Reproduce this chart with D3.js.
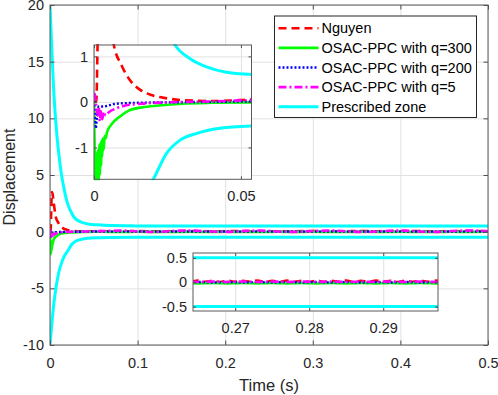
<!DOCTYPE html>
<html>
<head>
<meta charset="utf-8">
<script src="https://cdn.jsdelivr.net/npm/d3@7"></script>
<style>
    body { margin: 0; background: #fff; }
    svg { font-family: Arial, "Liberation Sans", sans-serif; }
</style>
</head>
<body>
<div id="chart"></div>
<script>
// ---------------- Data ----------------

// Series names (legend order)
const seriesNames = ["Nguyen", "OSAC-PPC with q=300", "OSAC-PPC with q=200", "OSAC-PPC with q=5", "Prescribed zone"];

// Transient part, [time, displacement]
const earlyNguyen = [[0, 0], [0.0008, 0.02], [0.0012, 1.2], [0.0017, 2.8], [0.0023, 3.5], [0.003, 3.3],
    [0.0045, 2.4], [0.0066, 1.3], [0.0094, 0.8], [0.0122, 0.48], [0.0156, 0.27], [0.0196, 0.15],
    [0.0247, 0.08], [0.03, 0.04], [0.04, 0.02], [0.047, 0.03], [0.053, 0.05]];

const earlyQ300 = [[0, 0], [0.0002, -0.9], [0.0004, -1.9], [0.0006, -1.1], [0.0008, -2.0], [0.001, -1.2],
    [0.0012, -1.9], [0.0014, -1.05], [0.0016, -1.75], [0.0018, -0.95], [0.002, -1.6], [0.0022, -0.9],
    [0.0024, -1.4], [0.0026, -0.85], [0.0028, -1.2], [0.003, -0.8], [0.0033, -1.05], [0.0036, -0.75],
    [0.004, -0.8], [0.0044, -0.67], [0.0061, -0.48], [0.0084, -0.34], [0.0118, -0.19], [0.0163, -0.12],
    [0.022, -0.08], [0.03, -0.04], [0.04, -0.02], [0.053, -0.01]];

const earlyQ200 = [[0, 0.02], [0.0003, -0.25], [0.0006, -0.58], [0.0009, -0.4], [0.0012, -0.18], [0.0016, -0.1],
    [0.003, -0.1], [0.005, -0.08], [0.0066, -0.05], [0.01, -0.03], [0.015, -0.02], [0.025, -0.01],
    [0.04, 0], [0.053, 0.01]];

const earlyQ5 = [[0, 0.2], [0.0004, 0.12], [0.0008, -0.1], [0.0012, -0.3], [0.0016, -0.12], [0.002, -0.42],
    [0.0024, -0.18], [0.0028, -0.38], [0.0033, -0.22], [0.004, -0.3], [0.005, -0.23], [0.0073, -0.15],
    [0.0107, -0.08], [0.016, -0.04], [0.025, -0.01], [0.04, 0.01], [0.053, 0.04]];

// Steady part on a shared time grid
const steadyTime = [0.06, 0.08, 0.10, 0.12, 0.14, 0.16, 0.18, 0.20, 0.22, 0.24, 0.26, 0.28,
    0.30, 0.32, 0.34, 0.36, 0.38, 0.40, 0.42, 0.44, 0.46, 0.48, 0.50];
const steadyNguyen = [0.04, 0.03, 0.05, 0.03, 0.04, 0.05, 0.03, 0.04, 0.05, 0.03, 0.04, 0.04,
    0.05, 0.03, 0.04, 0.05, 0.03, 0.04, 0.05, 0.03, 0.04, 0.05, 0.04];
const steadyQ300 = [-0.01, -0.02, -0.01, -0.02, -0.02, -0.01, -0.02, -0.01, -0.02, -0.02, -0.01, -0.02,
    -0.01, -0.02, -0.02, -0.01, -0.02, -0.01, -0.02, -0.02, -0.01, -0.02, -0.01];
const steadyQ200 = [0.01, 0, 0.01, 0, 0.01, 0.01, 0, 0.01, 0, 0.01, 0, 0.01,
    0, 0.01, 0, 0.01, 0.01, 0, 0.01, 0, 0.01, 0, 0.01];
const steadyQ5 = [0.05, 0.1, 0.02, -0.03, 0.06, 0.1, 0.03, -0.02, 0.05, 0.1, 0.02, -0.02,
    0.06, 0.1, 0.03, -0.03, 0.05, 0.1, 0.02, -0.02, 0.06, 0.1, 0.04];

// Prescribed zone bounds
const zoneUpper = [[0, 20], [0.002, 16.2], [0.004, 12.8], [0.006, 10.3], [0.008, 8.4], [0.01, 6.9],
    [0.013, 5.1], [0.016, 3.8], [0.02, 2.5], [0.024, 1.75], [0.0276, 1.25], [0.0327, 0.95],
    [0.0383, 0.77], [0.0451, 0.65], [0.0536, 0.6], [0.07, 0.54], [0.1, 0.51], [0.2, 0.5],
    [0.3, 0.5], [0.4, 0.5], [0.5, 0.5]];
const zoneLower = [[0, -10], [0.002, -8.2], [0.004, -6.6], [0.006, -5.4], [0.008, -4.4], [0.01, -3.6],
    [0.013, -2.8], [0.016, -2.2], [0.0202, -1.7], [0.0247, -1.13], [0.0293, -0.84], [0.035, -0.69],
    [0.0429, -0.58], [0.0536, -0.53], [0.07, -0.51], [0.1, -0.5], [0.2, -0.5], [0.3, -0.5],
    [0.4, -0.5], [0.5, -0.5]];

// Detail inside the second inset (0.264 s .. 0.298 s)
const zoomTime = [0.264, 0.265, 0.266, 0.267, 0.268, 0.269, 0.270, 0.271, 0.272, 0.273, 0.274, 0.275,
    0.276, 0.277, 0.278, 0.279, 0.280, 0.281, 0.282, 0.283, 0.284, 0.285, 0.286, 0.287, 0.288,
    0.289, 0.290, 0.291, 0.292, 0.293, 0.294, 0.295, 0.296, 0.297, 0.298];
const zoomNguyen = [0.01, 0.035, 0.01, 0.03, 0.005, 0.035, 0.01, 0.03, 0.01, 0.035, 0.005, 0.03,
    0.01, 0.035, 0.01, 0.03, 0.005, 0.035, 0.01, 0.03, 0.01, 0.035, 0.005, 0.03, 0.01,
    0.035, 0.01, 0.03, 0.005, 0.035, 0.01, 0.03, 0.01, 0.035, 0.01];
const zoomQ300 = [-0.02, -0.025, -0.02, -0.015, -0.02, -0.025, -0.02, -0.015, -0.02, -0.025, -0.02, -0.015,
    -0.02, -0.025, -0.02, -0.015, -0.02, -0.025, -0.02, -0.015, -0.02, -0.025, -0.02, -0.015, -0.02,
    -0.025, -0.02, -0.015, -0.02, -0.025, -0.02, -0.015, -0.02, -0.025, -0.02];
const zoomQ200 = [0, 0.005, 0, -0.005, 0, 0.005, 0, -0.005, 0, 0.005, 0, -0.005,
    0, 0.005, 0, -0.005, 0, 0.005, 0, -0.005, 0, 0.005, 0, -0.005, 0,
    0.005, 0, -0.005, 0, 0.005, 0, -0.005, 0, 0.005, 0];
const zoomQ5 = [0.01, 0.005, 0.01, 0.015, 0.01, 0.005, 0.01, 0.015, 0.01, 0.005, 0.01, 0.015,
    0.01, 0.005, 0.01, 0.015, 0.01, 0.005, 0.01, 0.015, 0.01, 0.005, 0.01, 0.015, 0.01,
    0.005, 0.01, 0.015, 0.01, 0.005, 0.01, 0.015, 0.01, 0.005, 0.01];

// Tick values
const mainXTicks = [0, 0.1, 0.2, 0.3, 0.4, 0.5];
const mainYTicks = [-10, -5, 0, 5, 10, 15, 20];
const inset1XTicks = [0, 0.05];
const inset1YTicks = [-1, 0, 1];
const inset2XTicks = [0.27, 0.28, 0.29];
const inset2YTicks = [-0.5, 0, 0.5];

// ---------------- Build the series ----------------
const zip = (ts, vs) => ts.map((t, i) => [t, vs[i]]);

const mainSeries = [
    earlyNguyen.concat(zip(steadyTime, steadyNguyen)),
    earlyQ300.concat(zip(steadyTime, steadyQ300)),
    earlyQ200.concat(zip(steadyTime, steadyQ200)),
    earlyQ5.concat(zip(steadyTime, steadyQ5))
];
const zoomSeries = [
    zip(zoomTime, zoomNguyen),
    zip(zoomTime, zoomQ300),
    zip(zoomTime, zoomQ200),
    zip(zoomTime, zoomQ5)
];

// Line styles (MATLAB style colors)
const styles = [
    { color: "#ff0000", width: 2.6, dash: "8,5" },
    { color: "#00ff00", width: 2.6, dash: null },
    { color: "#0000ff", width: 2.4, dash: "2,2" },
    { color: "#ff00ff", width: 2.6, dash: "8,3,2,3" },
    { color: "#00ffff", width: 3, dash: null }
];

// ---------------- Drawing ----------------
const svg = d3.select("#chart").append("svg")
    .attr("width", 498)
    .attr("height", 395);
const defs = svg.append("defs");

// Create one axes panel (background, grid, clip area)
function makePanel(id, box, xDomain, yDomain, xTicks, yTicks) {
    let p = { box: box, xTicks: xTicks, yTicks: yTicks };
    p.x = d3.scaleLinear().domain(xDomain).range([box.left, box.right]);
    p.y = d3.scaleLinear().domain(yDomain).range([box.bottom, box.top]);
    p.g = svg.append("g").attr("id", id);

    p.g.append("rect")
        .attr("x", box.left).attr("y", box.top)
        .attr("width", box.right - box.left).attr("height", box.bottom - box.top)
        .attr("fill", "#fff");

    // Grid lines
    p.g.append("g")
        .attr("transform", `translate(0, ${box.bottom})`)
        .call(d3.axisBottom(p.x).tickValues(xTicks).tickSize(-(box.bottom - box.top)).tickFormat(""))
        .call(g => g.select(".domain").remove())
        .selectAll("line").attr("stroke", "#e1e1e1").attr("stroke-width", 1);
    p.g.append("g")
        .attr("transform", `translate(${box.left}, 0)`)
        .call(d3.axisLeft(p.y).tickValues(yTicks).tickSize(-(box.right - box.left)).tickFormat(""))
        .call(g => g.select(".domain").remove())
        .selectAll("line").attr("stroke", "#e1e1e1").attr("stroke-width", 1);

    defs.append("clipPath").attr("id", "clip-" + id)
        .append("rect")
        .attr("x", box.left).attr("y", box.top - 1)
        .attr("width", box.right - box.left).attr("height", box.bottom - box.top + 2);
    p.plot = p.g.append("g").attr("clip-path", `url(#clip-${id})`);
    return p;
}

// Ticks, frame and tick labels of a panel
function finishPanel(p, tickLen, padX, padY, fontSize) {
    let box = p.box;
    const fmt = d => String(d);
    const style = g => {
        g.select(".domain").remove();
        g.selectAll("line").attr("stroke", "#4d4d4d");
        g.selectAll("text").attr("fill", "#262626").attr("font-size", fontSize).attr("font-family", null);
    };
    p.g.append("g").attr("transform", `translate(0, ${box.bottom})`)
        .call(d3.axisBottom(p.x).tickValues(p.xTicks).tickSize(-tickLen).tickPadding(padX).tickFormat(fmt))
        .call(style);
    p.g.append("g").attr("transform", `translate(0, ${box.top})`)
        .call(d3.axisTop(p.x).tickValues(p.xTicks).tickSize(-tickLen).tickFormat(""))
        .call(style);
    p.g.append("g").attr("transform", `translate(${box.left}, 0)`)
        .call(d3.axisLeft(p.y).tickValues(p.yTicks).tickSize(-tickLen).tickPadding(padY).tickFormat(fmt))
        .call(style);
    p.g.append("g").attr("transform", `translate(${box.right}, 0)`)
        .call(d3.axisRight(p.y).tickValues(p.yTicks).tickSize(-tickLen).tickFormat(""))
        .call(style);

    p.g.append("rect")
        .attr("x", box.left).attr("y", box.top)
        .attr("width", box.right - box.left).attr("height", box.bottom - box.top)
        .attr("fill", "none").attr("stroke", "#5a5a5a").attr("stroke-width", 1);
}

function drawLines(p, seriesList) {
    const line = d3.line()
        .x(d => p.x(d[0]))
        .y(d => p.y(d[1]))
        .curve(d3.curveMonotoneX);
    seriesList.forEach((s, i) => {
        p.plot.append("path")
            .datum(s)
            .attr("d", line)
            .attr("fill", "none")
            .attr("stroke", styles[i].color)
            .attr("stroke-width", styles[i].width)
            .attr("stroke-dasharray", styles[i].dash)
            .attr("stroke-linejoin", "round");
    });
    // Prescribed zone (both bounds)
    [zoneUpper, zoneLower].forEach(s => {
        p.plot.append("path")
            .datum(s)
            .attr("d", line)
            .attr("fill", "none")
            .attr("stroke", styles[4].color)
            .attr("stroke-width", styles[4].width);
    });
}

// Main axes
const main = makePanel("main", { left: 50, right: 488, top: 5, bottom: 345 }, [0, 0.5], [-10, 20], mainXTicks, mainYTicks);
drawLines(main, mainSeries);
finishPanel(main, 4.5, 13, 6, 14.5);

// Axis labels
svg.append("text")
    .attr("x", 269).attr("y", 391)
    .attr("text-anchor", "middle")
    .attr("font-size", 16.5).attr("fill", "#262626")
    .text("Time (s)");
svg.append("text")
    .attr("transform", "translate(14.5, 177) rotate(-90)")
    .attr("text-anchor", "middle")
    .attr("font-size", 16).attr("fill", "#262626")
    .text("Displacement");

// Inset 1: start of the response
const inset1 = makePanel("inset1", { left: 94, right: 251.5, top: 45, bottom: 179.3 }, [0, 0.0536], [-1.7, 1.25], inset1XTicks, inset1YTicks);
drawLines(inset1, mainSeries);
finishPanel(inset1, 3, 11, 6, 14.5);

// Inset 2: steady state detail
const inset2 = makePanel("inset2", { left: 193, right: 438, top: 253, bottom: 311 }, [0.2643, 0.2974], [-0.59, 0.6], inset2XTicks, inset2YTicks);
drawLines(inset2, zoomSeries);
finishPanel(inset2, 3, 12, 6, 14.5);

// Legend
const legend = svg.append("g").attr("class", "legend");
legend.append("rect")
    .attr("x", 274.5).attr("y", 16)
    .attr("width", 202).attr("height", 101.5)
    .attr("fill", "#fff").attr("stroke", "#262626").attr("stroke-width", 1);

seriesNames.forEach((name, i) => {
    let cy = 28.3 + i * 19.6;
    legend.append("line")
        .attr("x1", 278.5).attr("x2", 318.5)
        .attr("y1", cy).attr("y2", cy)
        .attr("stroke", styles[i].color)
        .attr("stroke-width", styles[i].width)
        .attr("stroke-dasharray", styles[i].dash);
    legend.append("text")
        .attr("x", 321.5).attr("y", cy + 5)
        .attr("font-size", 14.5).attr("fill", "#000")
        .text(name);
});
</script>
</body>
</html>
